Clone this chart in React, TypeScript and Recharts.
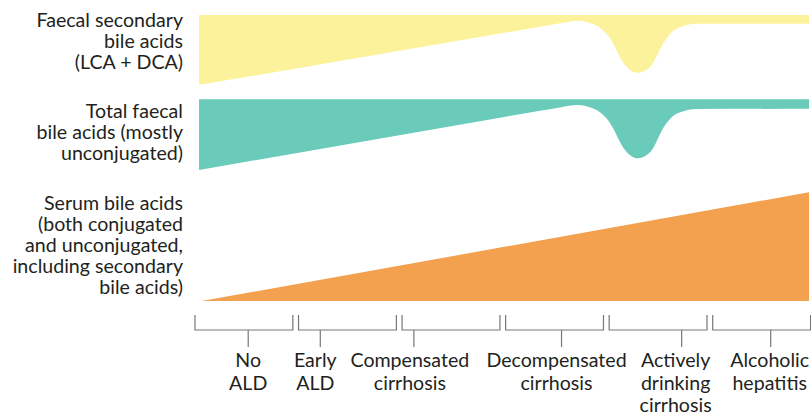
import { Area, ComposedChart, XAxis, YAxis } from "recharts";

// disease stages along the bottom, one bracket each
const STAGE_LINES: string[][] = [
  ["No", "ALD"],
  ["Early", "ALD"],
  ["Compensated", "cirrhosis"],
  ["Decompensated", "cirrhosis"],
  ["Actively", "drinking", "cirrhosis"],
  ["Alcoholic", "hepatitis"],
];
const STAGE_START = [0, 1, 2, 3, 4, 5];

// lane labels on the left
const LANE_LINES: string[][] = [
  ["Faecal secondary", "bile acids", "(LCA + DCA)"],
  ["Total faecal", "bile acids (mostly", "unconjugated)"],
  [
    "Serum bile acids",
    "(both conjugated",
    "and unconjugated,",
    "including secondary",
    "bile acids)",
  ],
];
const LANE_LABEL_AT = [90.7, 58.8, 19.6];

// faecal bands share the same progression points (stage units)
const FAECAL_X = [
  0.039, 3.332, 3.525, 3.699, 3.805, 3.921, 3.998, 4.153, 4.211, 4.28, 4.346,
  4.404, 4.534, 4.612, 4.723, 4.839, 5.93,
];
const SECONDARY_LOW = [
  75.5, 95.9, 97.1, 98.0, 97.3, 95.3, 92.4, 82.5, 80.5, 79.8, 80.5, 82.2, 90.7,
  94.2, 96.2, 96.9, 96.9,
];
const SECONDARY_HIGH = 100;
const TOTAL_LOW = [
  45.8, 66.5, 67.7, 68.5, 67.8, 65.7, 62.8, 52.8, 50.7, 49.9, 50.7, 52.4, 61.2,
  64.5, 66.4, 67.1, 67.2,
];
const TOTAL_HIGH = 70.5;

const SERUM_X = [0.065, 5.93];
const SERUM_HIGH = [0, 38.0];

const secondaryData = FAECAL_X.map((u, i) => ({
  u,
  low: SECONDARY_LOW[i],
  high: SECONDARY_HIGH,
}));
const totalData = FAECAL_X.map((u, i) => ({
  u,
  low: TOTAL_LOW[i],
  high: TOTAL_HIGH,
}));
const serumData = SERUM_X.map((u, i) => ({ u, low: 0, high: SERUM_HIGH[i] }));

// layout
const W = 811;
const H = 415;
const LEFT = 195;
const RIGHT = 2;
const X_MAX = 5.93;
const PX_PER_STAGE = (W - LEFT - RIGHT) / X_MAX;
const BRACKET_SPAN = 0.945;
const TICK_AT = [0.514, 0.21, 0.114, 0.54, 0.7, 0.56];
const LABEL_NUDGE = [0, -5, -4, -5, -6, -1];
const FONT = "Lato, 'Noto Sans', sans-serif";
const FONT_SIZE = 19.6;
const INK = "#231f20";
const GREY = "#77787b";

function StageTick(props: any) {
  const { x, y, payload } = props;
  const i = STAGE_START.indexOf(payload.value);
  if (i < 0) return null;
  const right = x + PX_PER_STAGE * BRACKET_SPAN;
  const mid = x + PX_PER_STAGE * TICK_AT[i];
  const cx = mid + LABEL_NUDGE[i];
  return (
    <g>
      <path
        d={`M${x},${y + 14}V${y + 29}H${right}V${y + 14}`}
        fill="none"
        stroke={GREY}
        strokeWidth={1.2}
      />
      <line x1={mid} x2={mid} y1={y + 29} y2={y + 46} stroke={GREY} strokeWidth={1.2} />
      <text textAnchor="middle" fill={INK} fontSize={FONT_SIZE} fontFamily={FONT}>
        {STAGE_LINES[i].map((l, k) => (
          <tspan key={k} x={cx} y={y + 66 + k * 22.6}>
            {l}
          </tspan>
        ))}
      </text>
    </g>
  );
}

function LaneTick(props: any) {
  const { x, y, payload } = props;
  const i = LANE_LABEL_AT.indexOf(payload.value);
  if (i < 0) return null;
  const lines = LANE_LINES[i];
  const first = y + 6.6 - ((lines.length - 1) / 2) * 21;
  return (
    <text textAnchor="end" fill={INK} fontSize={FONT_SIZE} fontFamily={FONT}>
      {lines.map((l, k) => (
        <tspan key={k} x={x} y={first + k * 21}>
          {l}
        </tspan>
      ))}
    </text>
  );
}

export default function App() {
  return (
    <div style={{ position: "absolute", left: 0, top: 0, background: "#fff" }}>
      <ComposedChart
        width={W}
        height={H}
        margin={{ top: 15, right: RIGHT, bottom: 0, left: 0 }}
      >
        <XAxis
          type="number"
          dataKey="u"
          domain={[0, X_MAX]}
          ticks={STAGE_START}
          interval={0}
          height={114}
          axisLine={false}
          tickLine={false}
          tickSize={0}
          tickMargin={0}
          allowDataOverflow
          tick={<StageTick />}
        />
        <YAxis
          type="number"
          domain={[0, 100]}
          ticks={LANE_LABEL_AT}
          interval={0}
          width={LEFT}
          axisLine={false}
          tickLine={false}
          tickSize={0}
          tickMargin={12}
          allowDataOverflow
          tick={<LaneTick />}
        />
        <Area
          data={secondaryData}
          type="monotone"
          dataKey={(d: any) => [d.low, d.high]}
          fill="#fbf29b"
          fillOpacity={1}
          stroke="none"
          dot={false}
          activeDot={false}
          isAnimationActive={false}
        />
        <Area
          data={totalData}
          type="monotone"
          dataKey={(d: any) => [d.low, d.high]}
          fill="#6acbbb"
          fillOpacity={1}
          stroke="none"
          dot={false}
          activeDot={false}
          isAnimationActive={false}
        />
        <Area
          data={serumData}
          type="linear"
          dataKey={(d: any) => [d.low, d.high]}
          fill="#f4a14f"
          fillOpacity={1}
          stroke="none"
          dot={false}
          activeDot={false}
          isAnimationActive={false}
        />
      </ComposedChart>
    </div>
  );
}
